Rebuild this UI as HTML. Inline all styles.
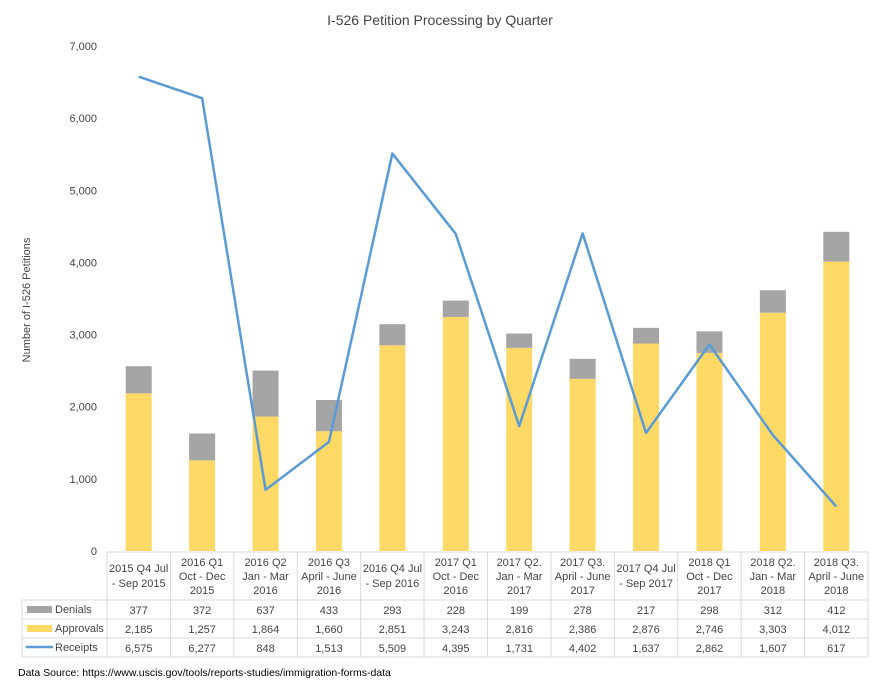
<!DOCTYPE html>
<html><head><meta charset="utf-8"><style>
html,body{margin:0;padding:0;background:#fff;}
svg{display:block;font-family:"Liberation Sans",sans-serif;}
</style></head><body>
<svg id="c" width="883" height="684" xmlns="http://www.w3.org/2000/svg"></svg>
<script>
const cats=[["2015 Q4 Jul","- Sep 2015"],["2016 Q1","Oct - Dec","2015"],["2016 Q2","Jan - Mar","2016"],["2016 Q3","April - June","2016"],["2016 Q4 Jul","- Sep 2016"],["2017 Q1","Oct - Dec","2016"],["2017 Q2.","Jan - Mar","2017"],["2017 Q3.","April - June","2017"],["2017 Q4 Jul","- Sep 2017"],["2018 Q1","Oct - Dec","2017"],["2018 Q2.","Jan - Mar","2018"],["2018 Q3.","April - June","2018"]];
const den=[377,372,637,433,293,228,199,278,217,298,312,412];
const app=[2185,1257,1864,1660,2851,3243,2816,2386,2876,2746,3303,4012];
const rec=[6575,6277,848,1513,5509,4395,1731,4402,1637,2862,1607,617];
const f=n=>n.toLocaleString('en-US');
const L=107,R=868,W=(R-L)/12,Y0=551,S=(551-46)/7000;
const y=v=>Y0-v*S;
let s='';
s+='<text x="440" y="25" text-anchor="middle" font-size="14" fill="#444">I-526 Petition Processing by Quarter</text>';
for(let i=0;i<=7;i++){s+=`<text x="97" y="${y(i*1000)+4}" text-anchor="end" font-size="11" fill="#444">${f(i*1000)}</text>`;}
s+='<text transform="translate(30,300) rotate(-90)" text-anchor="middle" font-size="11" fill="#444">Number of I-526 Petitions</text>';
let pts=[];
for(let i=0;i<12;i++){const cx=L+W*i+W/2;
s+=`<rect x="${cx-13}" y="${y(app[i])}" width="26" height="${app[i]*S}" fill="#FFD966"/>`;
s+=`<rect x="${cx-13}" y="${y(app[i]+den[i])}" width="26" height="${den[i]*S}" fill="#A5A5A5"/>`;
pts.push(`${cx},${y(rec[i])}`);}
s+=`<polyline points="${pts.join(' ')}" fill="none" stroke="#5B9BD5" stroke-width="2.5" stroke-linejoin="round"/>`;
// table
const ln='#d9d9d9';
const rows=[552,600,619,638,657];
s+=`<line x1="${L}" y1="552" x2="${R}" y2="552" stroke="${ln}"/>`;
for(let r=1;r<5;r++)s+=`<line x1="22" y1="${rows[r]}" x2="${R}" y2="${rows[r]}" stroke="${ln}"/>`;
s+=`<line x1="22" y1="600" x2="22" y2="657" stroke="${ln}"/>`;
for(let i=0;i<=12;i++){const x=L+W*i;s+=`<line x1="${x}" y1="552" x2="${x}" y2="657" stroke="${ln}"/>`;}
for(let i=0;i<12;i++){const cx=L+W*i+W/2;const c=cats[i];
const ys=c.length==2?[568,583]:[562,576,590];
c.forEach((t,k)=>s+=`<text x="${cx}" y="${ys[k]+4}" text-anchor="middle" font-size="11" fill="#444">${t}</text>`);
[den,app,rec].forEach((a,r)=>s+=`<text x="${cx}" y="${rows[r+1]+14}" text-anchor="middle" font-size="11" fill="#444">${f(a[i])}</text>`);}
s+='<rect x="27" y="606" width="25" height="7" fill="#A5A5A5"/><text x="55" y="613" font-size="11" fill="#444">Denials</text>';
s+='<rect x="27" y="625" width="25" height="7" fill="#FFD966"/><text x="55" y="632" font-size="11" fill="#444">Approvals</text>';
s+='<line x1="26" y1="647" x2="53" y2="647" stroke="#5B9BD5" stroke-width="2.5"/><text x="55" y="651" font-size="11" fill="#444">Receipts</text>';
s+='<text x="18" y="676" font-size="10.5" fill="#000">Data Source: https://www.uscis.gov/tools/reports-studies/immigration-forms-data</text>';
document.getElementById('c').innerHTML=s;
</script>
</body></html>
